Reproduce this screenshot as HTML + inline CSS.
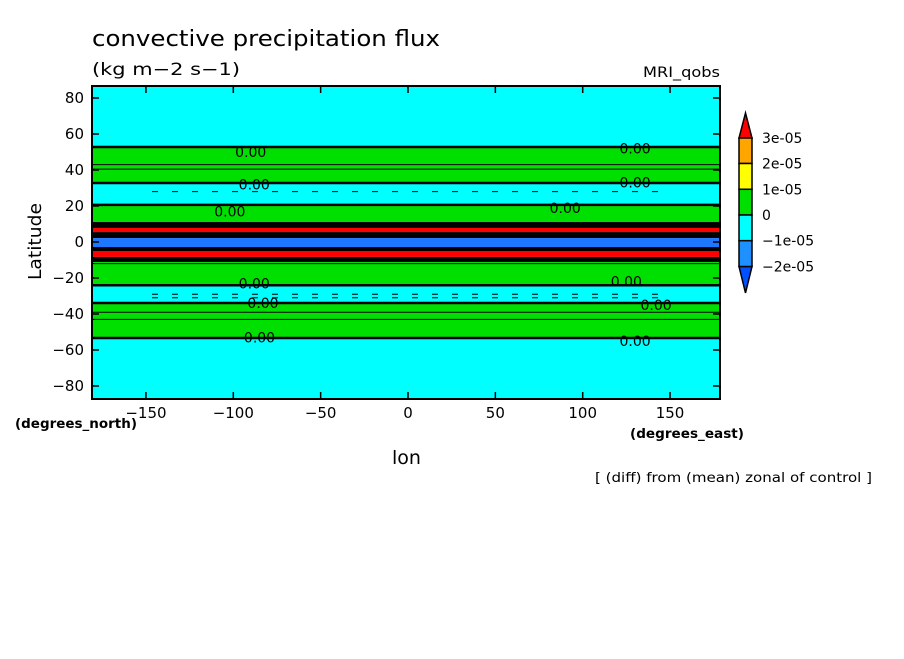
<!DOCTYPE html>
<html><head><meta charset="utf-8"><style>
body{margin:0;background:#fff;}
svg text{font-family:"DejaVu Sans","Liberation Sans",sans-serif;fill:#000;}
</style></head><body>
<svg id="chart" width="904" height="654" viewBox="0 0 904 654" xmlns="http://www.w3.org/2000/svg">
<text x="92" y="46" font-size="22" textLength="348" lengthAdjust="spacingAndGlyphs">convective precipitation flux</text>
<text x="92" y="75" font-size="17" textLength="148" lengthAdjust="spacingAndGlyphs">(kg m−2 s−1)</text>
<text x="643" y="77" font-size="14" textLength="77" lengthAdjust="spacingAndGlyphs">MRI_qobs</text>
<g id="field"></g>
<g id="lines"></g>
<rect x="92" y="86" width="628" height="313" fill="none" stroke="#000" stroke-width="2"/>
<g id="axes"></g>
<text transform="translate(41,280) rotate(-90)" font-size="18" textLength="77" lengthAdjust="spacingAndGlyphs">Latitude</text>
<text x="392" y="464" font-size="19" textLength="29" lengthAdjust="spacingAndGlyphs">lon</text>
<text x="15" y="428" font-size="13" font-weight="bold" textLength="122" lengthAdjust="spacingAndGlyphs">(degrees_north)</text>
<text x="630" y="438" font-size="13" font-weight="bold" textLength="114" lengthAdjust="spacingAndGlyphs">(degrees_east)</text>
<text x="595" y="482" font-size="13" textLength="277" lengthAdjust="spacingAndGlyphs">[ (diff) from (mean) zonal of control ]</text>
<g id="cbar"></g>
</svg>
<script>
// data
const bandTop = [90, 52.8, 32.8, 20.6, 11.1, 7.8, 5.5, 3.9, 2.2, -2.8, -5, -8.3, -11.1, -24, -33.9, -53.3];
const bandVal = [-0.5, 0.5, -0.5, 0.5, null, 3.5, null, null, -1.5, null, 3.5, null, 0.5, -0.5, 0.5, -0.5];
const zeroLabelsLon = [-90, -88, -102, -88, -83, -85, 130, 130, 90, 125, 142, 130];
const zeroLabelsLat = [50, 32, 17, -23, -34, -53, 52, 33, 19, -22, -35, -55];
const thinLineLats = [43, 40.5, -39, -43, 10, -12];
const dashLineLats = [28, -29, -31];
const cbLevels = ["3e-05", "2e-05", "1e-05", "0", "−1e-05", "−2e-05"];
const xTicks = [-150, -100, -50, 0, 50, 100, 150];
const yTicks = [80, 60, 40, 20, 0, -20, -40, -60, -80];

const NS = "http://www.w3.org/2000/svg";
const X0 = 92, X1 = 720, Y0 = 86, Y1 = 399;
const xs = lon => 408 + lon * 1.747;
const ys = lat => Math.max(Y0, Math.min(Y1, 242 - lat * 1.8));
function color(v){
  if (v === null) return "#000";
  if (v >= 3) return "#ff0000";
  if (v >= 2) return "#ffa500";
  if (v >= 1) return "#ffff00";
  if (v >= 0) return "#00e000";
  if (v >= -1) return "#00ffff";
  if (v >= -2) return "#1e78ff";
  return "#0050ff";
}
function mk(tag, attrs, parent){
  const e = document.createElementNS(NS, tag);
  for (const k in attrs) e.setAttribute(k, attrs[k]);
  parent.appendChild(e); return e;
}
const field = document.getElementById("field");
for (let i = 0; i < bandTop.length; i++) {
  const t = ys(bandTop[i]);
  const b = i + 1 < bandTop.length ? ys(bandTop[i + 1]) : Y1;
  const r = mk("rect", {x: X0, y: t, width: X1 - X0, height: b - t, fill: color(bandVal[i])}, field);
  
  
}
const lines = document.getElementById("lines");
for (let i = 1; i < bandTop.length; i++) {
  const a = bandVal[i - 1], b = bandVal[i];
  if (a !== null && b !== null && Math.sign(a) !== Math.sign(b)) {
    const l = mk("line", {x1: X0, x2: X1, y1: ys(bandTop[i]), y2: ys(bandTop[i]), stroke: "#000", "stroke-width": 2.5}, lines);
    
    
  }
}
thinLineLats.forEach(lat => {
  const l = mk("line", {x1: X0, x2: X1, y1: ys(lat), y2: ys(lat), stroke: "#000", "stroke-width": 1}, lines);
  
  
});
dashLineLats.forEach(lat => {
  const l = mk("line", {x1: X0 + 60, x2: X1 - 60, y1: ys(lat), y2: ys(lat), stroke: "#000", "stroke-width": 1, "stroke-dasharray": "6 14"}, lines);
  
  
});
zeroLabelsLon.forEach((lon, i) => {
  const t = mk("text", {x: xs(lon), y: ys(zeroLabelsLat[i]) + 5, "font-size": 14, "text-anchor": "middle"}, lines);
  t.textContent = "0.00";
  
  
});
const axes = document.getElementById("axes");
xTicks.forEach(v => {
  mk("line", {x1: xs(v), x2: xs(v), y1: Y1, y2: Y1 - 7, stroke: "#000", "stroke-width": 1.5}, axes);
  mk("line", {x1: xs(v), x2: xs(v), y1: Y0, y2: Y0 + 7, stroke: "#000", "stroke-width": 1.5}, axes);
  const t = mk("text", {x: xs(v), y: 418, "font-size": 15, "text-anchor": "middle"}, axes);
  t.textContent = v < 0 ? "−" + (-v) : String(v);
  
  
});
yTicks.forEach(v => {
  mk("line", {x1: X0, x2: X0 + 7, y1: ys(v), y2: ys(v), stroke: "#000", "stroke-width": 1.5}, axes);
  mk("line", {x1: X1, x2: X1 - 7, y1: ys(v), y2: ys(v), stroke: "#000", "stroke-width": 1.5}, axes);
  const t = mk("text", {x: 84, y: ys(v) + 5, "font-size": 15, "text-anchor": "end"}, axes);
  t.textContent = v < 0 ? "−" + (-v) : String(v);
  
  
});
const cb = document.getElementById("cbar");
const cbY = [138, 163.5, 189.3, 215, 240.7, 266.5];
const boxCols = ["#ffa500", "#ffff00", "#00e000", "#00ffff", "#1e90ff"];
mk("polygon", {points: "739,138 752,138 745.5,113", fill: "#ff0000", stroke: "#000", "stroke-width": 1.5}, cb);
mk("polygon", {points: "739,266.5 752,266.5 745.5,293", fill: "#0050ff", stroke: "#000", "stroke-width": 1.5}, cb);
for (let i = 0; i < 5; i++) {
  const r = mk("rect", {x: 739, y: cbY[i], width: 13, height: cbY[i + 1] - cbY[i], fill: boxCols[i], stroke: "#000", "stroke-width": 1.5}, cb);
  
  
}
cbLevels.forEach((s, i) => {
  const t = mk("text", {x: 762, y: cbY[i] + 5, "font-size": 14}, cb);
  t.textContent = s;
  
  
});
</script>
</body></html>
